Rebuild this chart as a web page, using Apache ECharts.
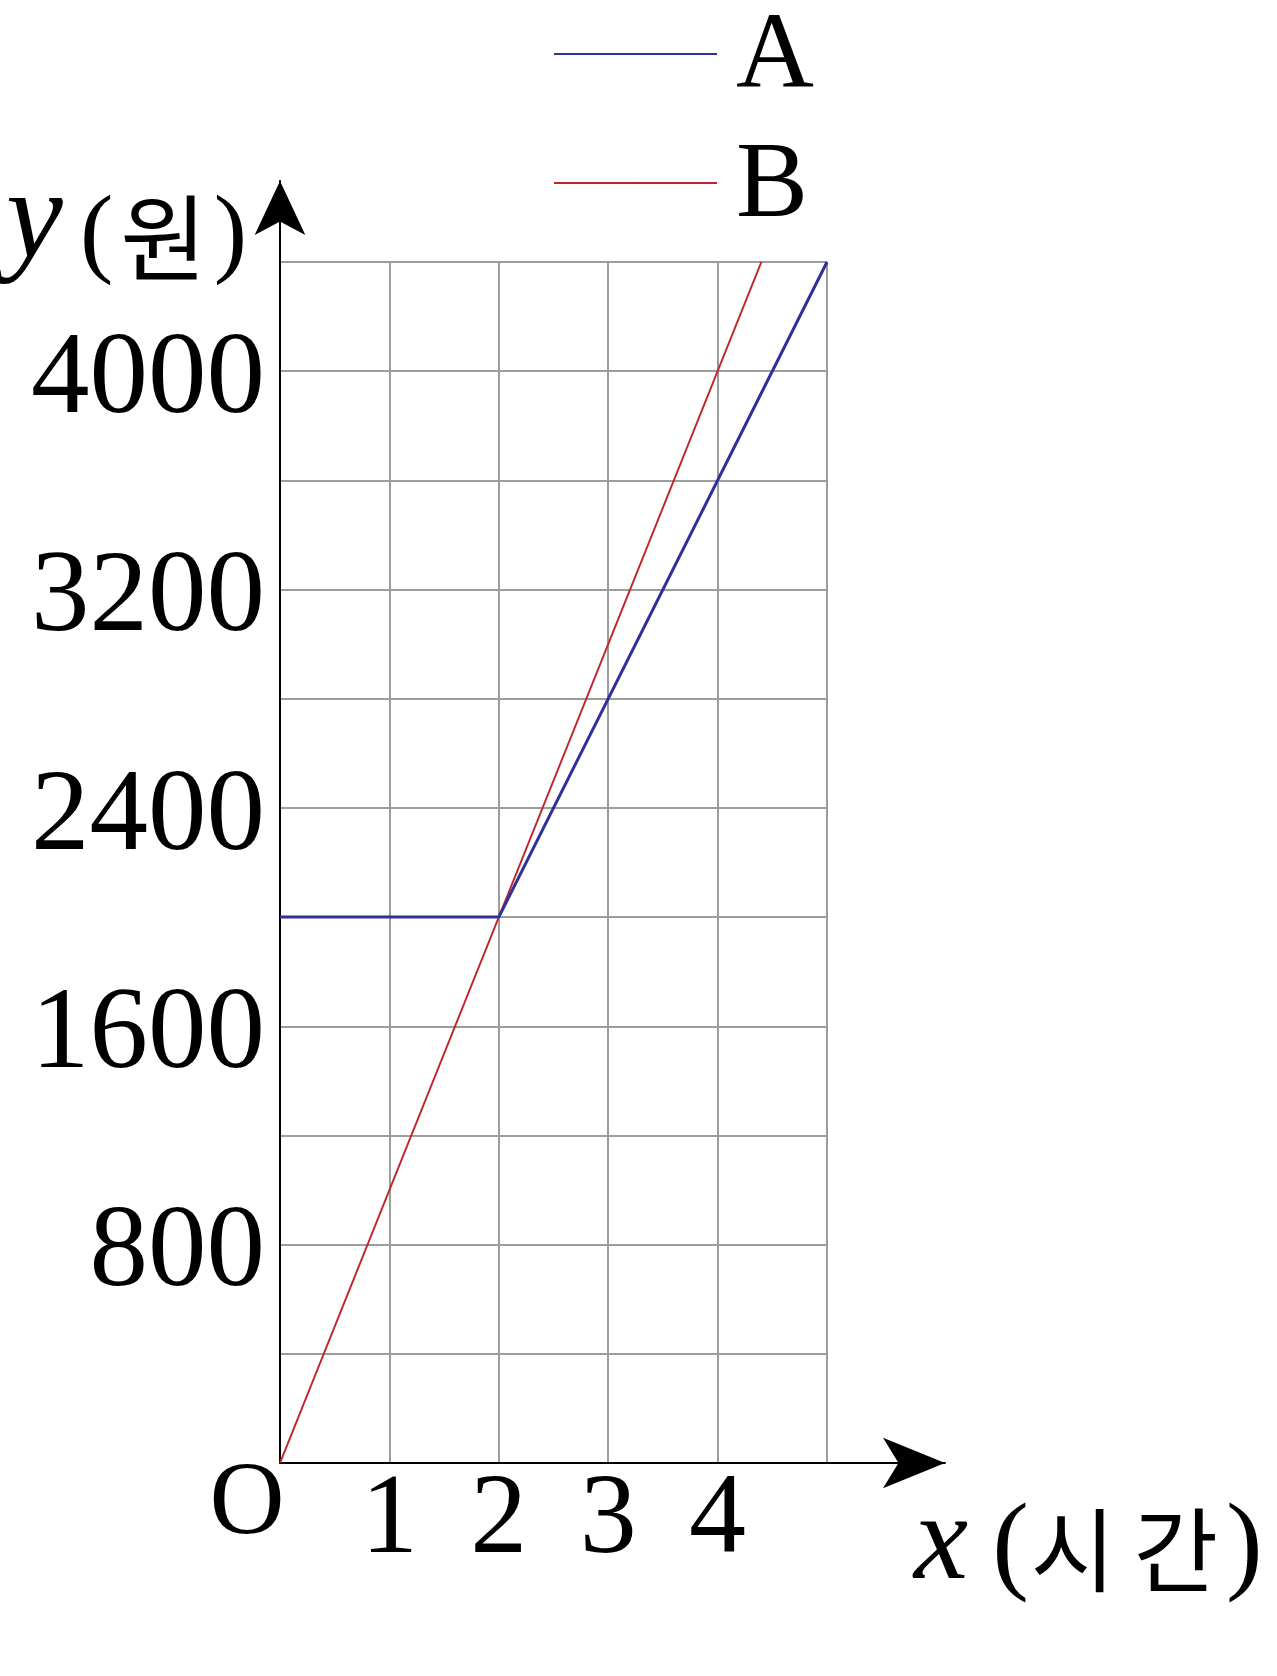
<!DOCTYPE html>
<html>
<head>
<meta charset="utf-8">
<script src="https://cdn.jsdelivr.net/npm/echarts@6/dist/echarts.min.js"></script>
<style>
html,body{margin:0;padding:0;background:#fff;}
#chart{width:1277px;height:1676px;}
</style>
</head>
<body>
<div id="chart"></div>
<script>
// ---- data ----
const seriesNames = ['A', 'B'];
const seriesA = [[0, 2000], [2, 2000], [5, 4400]];
const seriesB = [[0, 0], [4.4, 4400]];
const xTickLabels = { 1: '1', 2: '2', 3: '3', 4: '4' };
const yTickLabels = { 800: '800', 1600: '1600', 2400: '2400', 3200: '3200', 4000: '4000' };
const originLabel = 'O';
const xName = ['x', '(', '시', '간', ')'];
const yName = ['y', '(', '원', ')'];
const xRange = [0, 5, 1];
const yRange = [0, 4400, 400];

const SERIF = '"Liberation Serif", "DejaVu Serif", serif';
const KR = '"Noto Sans CJK KR", sans-serif';
const GRID_COLOR = '#9c9c9c';

const chart = echarts.init(document.getElementById('chart'), null, { renderer: 'canvas' });

const xNameRich = ['v', 'p', 'k1', 'k2', 'p'];
const yNameRich = ['v', 'p', 'k', 'p'];

const option = {
  backgroundColor: '#fff',
  animation: false,
  legend: {
    data: seriesNames,
    orient: 'vertical',
    left: 548,
    top: 0,
    itemWidth: 163,
    itemHeight: 2,
    itemGap: 21,
    formatter: name => `{t|${name}}`,
    textStyle: {
      fontFamily: SERIF, fontSize: 108, color: '#000',
      rich: { t: { fontFamily: SERIF, fontSize: 108, color: '#000', padding: [10, 0, 0, 14] } }
    }
  },
  grid: [
    { left: 280, right: 450, top: 262, bottom: 213, containLabel: false, outerBoundsMode: 'none' },
    { left: 280, right: 332, top: 181, bottom: 213, containLabel: false, outerBoundsMode: 'none' }
  ],
  xAxis: [
    {
      type: 'value', gridIndex: 0, min: xRange[0], max: xRange[1], interval: xRange[2],
      axisLine: { show: false },
      axisTick: { show: false },
      splitLine: { show: true, lineStyle: { color: GRID_COLOR, width: 2 } },
      axisLabel: {
        show: true, margin: 2, fontFamily: SERIF, fontSize: 114, lineHeight: 114, color: '#000',
        formatter: v => xTickLabels[v] || ''
      }
    },
    {
      type: 'value', gridIndex: 1, min: 0, max: 1,
      axisLine: { show: true, lineStyle: { color: '#000', width: 2 }, symbol: ['none', 'arrow'], symbolSize: [38, 62] },
      axisTick: { show: false }, axisLabel: { show: false }, splitLine: { show: false },
      name: xName.map((t, i) => `{${xNameRich[i]}|${t}}`).join(''),
      nameLocation: 'end',
      nameGap: -31,
      nameTextStyle: {
        padding: [174, 0, 0, 0],
        rich: {
          v: { fontFamily: SERIF, fontStyle: 'italic', fontSize: 122, color: '#000', verticalAlign: 'middle', padding: [0, 22, 8, 0] },
          p: { fontFamily: SERIF, fontSize: 110, color: '#000', verticalAlign: 'middle', padding: [0, 2, 0, 2] },
          k1: { fontFamily: KR, fontSize: 92, color: '#000', verticalAlign: 'middle', padding: [0, 18, 0, 0] },
          k2: { fontFamily: KR, fontSize: 92, color: '#000', verticalAlign: 'middle', padding: [0, 6, 0, 0] }
        }
      }
    }
  ],
  yAxis: [
    {
      type: 'value', gridIndex: 0, min: yRange[0], max: yRange[1], interval: yRange[2],
      axisLine: { show: false },
      axisTick: { show: false },
      splitLine: { show: true, lineStyle: { color: GRID_COLOR, width: 2 } },
      axisLabel: {
        show: true, margin: 15, color: '#000',
        formatter: v => yTickLabels[v] ? `{a|${yTickLabels[v]}}` : '',
        rich: { a: { fontFamily: SERIF, fontSize: 117, color: '#000', padding: [20, 0, 0, 0] } }
      },
      name: yName.map((t, i) => `{${yNameRich[i]}|${t}}`).join(''),
      nameLocation: 'end',
      nameGap: 24,
      nameTextStyle: {
        align: 'right',
        verticalAlign: 'middle',
        padding: [0, 30, 0, 0],
        rich: {
          v: { fontFamily: SERIF, fontStyle: 'italic', fontSize: 128, color: '#000', verticalAlign: 'middle', padding: [0, 14, 30, 0] },
          p: { fontFamily: SERIF, fontSize: 100, color: '#000', verticalAlign: 'middle', padding: [0, 3, 0, 3] },
          k: { fontFamily: KR, fontSize: 94, color: '#000', verticalAlign: 'middle', padding: [0, 4, 0, 4] }
        }
      }
    },
    {
      type: 'value', gridIndex: 1, min: 0, max: 1,
      axisLine: { show: true, onZero: false, lineStyle: { color: '#000', width: 2 }, symbol: ['none', 'arrow'], symbolSize: [38, 54] },
      axisTick: { show: false }, axisLabel: { show: false }, splitLine: { show: false }
    }
  ],
  series: [
    {
      name: seriesNames[0], type: 'line', xAxisIndex: 0, yAxisIndex: 0,
      data: seriesA, symbol: 'none', z: 3,
      lineStyle: { color: '#30309c', width: 3 }, itemStyle: { color: '#30309c' }
    },
    {
      name: seriesNames[1], type: 'line', xAxisIndex: 0, yAxisIndex: 0,
      data: seriesB, symbol: 'none', z: 2,
      lineStyle: { color: '#c1232b', width: 2 }, itemStyle: { color: '#c1232b' }
    }
  ]
};
chart.setOption(option);

const o = chart.convertToPixel({ gridIndex: 0 }, [0, 0]);
chart.setOption({
  graphic: [{
    type: 'text',
    x: o[0] - 33,
    y: o[1] + 43,
    style: { text: originLabel, fontFamily: SERIF, fontSize: 104, fill: '#000', align: 'center', verticalAlign: 'middle' }
  }]
});
</script>
</body>
</html>
